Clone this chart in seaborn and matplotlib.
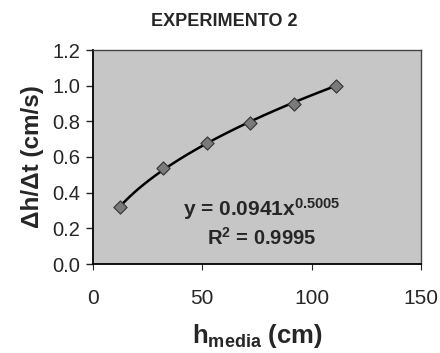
import matplotlib
matplotlib.use("Agg")
import matplotlib.pyplot as plt
import numpy as np
import pandas as pd
import seaborn as sns

# data
h_media = [12.5, 32, 52, 72, 92, 111]
dh_dt = [0.32, 0.54, 0.68, 0.79, 0.90, 1.00]
x_ticks = [0, 50, 100, 150]
y_ticks = [0.0, 0.2, 0.4, 0.6, 0.8, 1.0, 1.2]
equation = "y = 0.0941x$^{0.5005}$"
r2_text = "R$^{2}$ = 0.9995"

sns.set_style("white")
plt.rcParams["font.family"] = ["Liberation Sans", "DejaVu Sans"]
plt.rcParams["mathtext.fontset"] = "custom"
plt.rcParams["mathtext.rm"] = "Liberation Sans:bold"
plt.rcParams["mathtext.it"] = "Liberation Sans:bold"
plt.rcParams["mathtext.bf"] = "Liberation Sans:bold"

df = pd.DataFrame({"h": h_media, "v": dh_dt})

# power trend line (least squares on logs, like the spreadsheet trendline)
b, log_a = np.polyfit(np.log(df["h"]), np.log(df["v"]), 1)
xs = np.linspace(df["h"].min(), df["h"].max(), 100)
trend = pd.DataFrame({"h": xs, "v": np.exp(log_a) * xs ** b})

fig = plt.figure(figsize=(4.4, 3.53), dpi=100)
ax = fig.add_axes([93 / 440, 1 - 264 / 353, 328 / 440, 214 / 353])
ax.set_facecolor("#c6c6c6")

sns.lineplot(data=trend, x="h", y="v", color="black", linewidth=1.8, ax=ax, zorder=2)
sns.scatterplot(data=df, x="h", y="v", marker="D", s=45, color="#7a7a7a",
                edgecolor="#333333", linewidth=0.8, ax=ax, zorder=3)

ax.set_xlim(0, 150); ax.set_ylim(0, 1.2)
ax.set_xticks(x_ticks)
ax.set_yticks(y_ticks)
ax.set_yticklabels([f"{t:.1f}" for t in y_ticks], fontsize=14.5)
ax.set_xticklabels([str(t) for t in x_ticks], fontsize=15)
ax.tick_params(axis="y", direction="out", length=5, width=1, pad=4, left=True)
ax.tick_params(axis="x", direction="out", length=4, width=0.8, pad=14, bottom=True)

for side in ["left", "bottom"]:
    ax.spines[side].set_color("black"); ax.spines[side].set_linewidth(1.3)
for side in ["top", "right"]:
    ax.spines[side].set_color("#444444"); ax.spines[side].set_linewidth(1.0)

ax.set_xlabel(r"h$_{\mathrm{media}}$ (cm)", fontsize=18.5, fontweight="bold", labelpad=10)
ax.set_ylabel("Δh/Δt (cm/s)", fontsize=17.5, fontweight="bold", labelpad=6)

ax.text(77, 0.31, equation, fontsize=15, fontweight="bold", ha="center", va="center")
ax.text(77, 0.145, r2_text, fontsize=14.5, fontweight="bold", ha="center", va="center")

fig.text(0.51, 0.94, "EXPERIMENTO 2", fontsize=13, fontweight="bold",
         ha="center", va="center")

fig.savefig("out.png", dpi=100)
